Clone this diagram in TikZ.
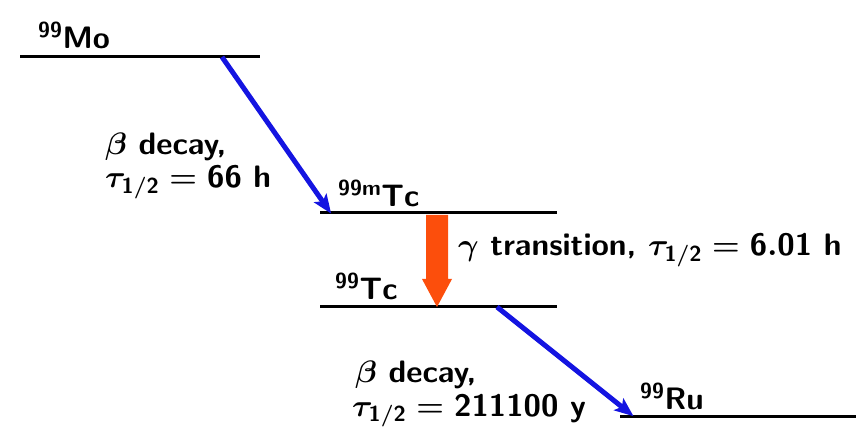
\RequirePackage{fix-cm}
\documentclass[tikz,border=0pt]{standalone}
\usepackage{graphicx}
\usetikzlibrary{arrows.meta}
\renewcommand{\familydefault}{\sfdefault}
\definecolor{decayblue}{RGB}{20,20,225}
\definecolor{gammaorange}{RGB}{252,78,12}
\newcommand{\widetxt}[1]{\scalebox{1.02}[1]{#1}}
\newcommand{\cmsansbold}{\fontencoding{OT1}\fontfamily{cmss}\fontseries{bx}\fontshape{n}}
\tikzset{
  level/.style={line width=3pt,black},
  decay/.style={line width=5pt,decayblue,-{Stealth[length=19pt,width=15pt,inset=4pt]},shorten >=-2pt},
  isolabel/.style={anchor=base west,inner sep=0pt,font=\cmsansbold\fontsize{31}{36}\selectfont},
  txt/.style={anchor=base west,inner sep=0pt,font=\cmsansbold\fontsize{31}{35}\selectfont\boldmath}
}
\begin{document}
\begin{tikzpicture}[x=1pt,y=1pt]
\useasboundingbox (0,0) rectangle (856,428);
% levels
\coordinate (moL) at (20,371);  \coordinate (moR) at (260,371);
\coordinate (tcmL) at (320,215); \coordinate (tcmR) at (557,215);
\coordinate (tcL) at (320,121);  \coordinate (tcR) at (557,121);
\coordinate (ruL) at (620,11);   \coordinate (ruR) at (856,11);
\draw[level] (moL) -- (moR);
\draw[level] (tcmL) -- (tcmR);
\draw[level] (tcL) -- (tcR);
\draw[level] (ruL) -- (ruR);
% labels of levels
\node[isolabel] (mo) at (38,379) {\textsuperscript{99}Mo};
\node[isolabel] (tcm) at (338,221) {\textsuperscript{99m}Tc};
\node[isolabel] (tc) at (335,128) {\textsuperscript{99}Tc};
\node[isolabel] (ru) at (640,18) {\textsuperscript{99}Ru};
% beta decays
\coordinate (b1s) at (222,371); \coordinate (b1e) at (330,216);
\coordinate (b2s) at (497,121); \coordinate (b2e) at (632,13);
\draw[decay] (b1s) -- (b1e);
\draw[decay] (b2s) -- (b2e);
% gamma arrow
\fill[gammaorange] (426,213) -- (448,213) -- (448,149) -- (452,149) -- (437,121) -- (422,149) -- (426,149) -- cycle;
% texts
\node[txt] (d1a) at (105,273) {\widetxt{$\beta$ decay,}};
\node[txt] (d1b) at (105,240) {\widetxt{$\tau_{\mathsf{1/2}} = \mathsf{66}$ h}};
\node[txt] (g) at (458,172) {\widetxt{$\gamma$ transition, $\tau_{\mathsf{1/2}} = \mathsf{6.01}$ h}};
\node[txt] (d2a) at (355,45) {\widetxt{$\beta$ decay,}};
\node[txt] (d2b) at (352,12) {\widetxt{$\tau_{\mathsf{1/2}} = \mathsf{211100}$ y}};
\end{tikzpicture}
\end{document}
